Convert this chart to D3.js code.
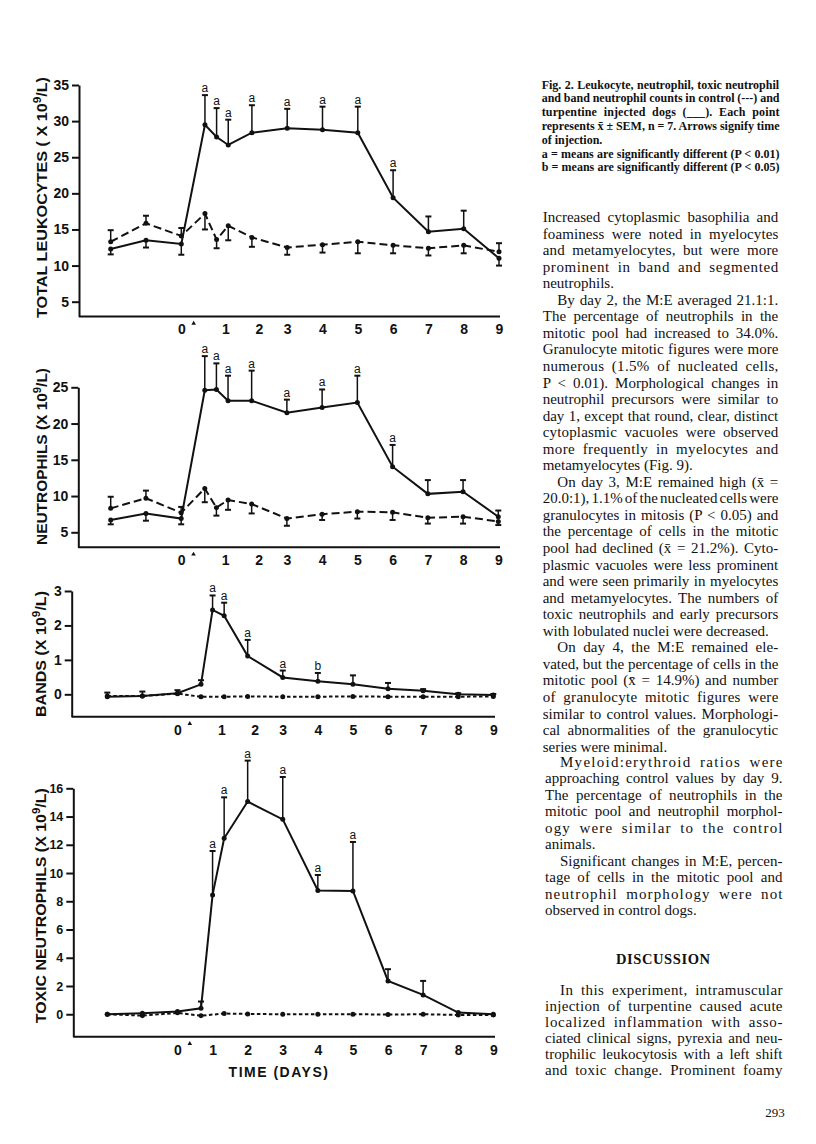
<!DOCTYPE html>
<html>
<head>
<meta charset="utf-8">
<script src="https://cdn.jsdelivr.net/npm/d3@7"></script>
<style>
  body { margin: 0; background: #fff; }
  svg { display: block; }
</style>
</head>
<body>
<svg id="page" width="816" height="1144"></svg>
<script>
// sampling times (days relative to injection)
const days = [-2, -1, 0, 0.67, 1, 1.33, 2, 3, 4, 5, 6, 7, 8, 9];

// total leukocytes (x 10^9/L); negative error = bar drawn below the mean
const leukoTurp    = [12.3, 13.5, 13.0, 29.5, 27.8, 26.7, 28.4, 29.0, 28.8, 28.4, 19.4, 14.7, 15.1, 11.0];
const leukoTurpErr = [-0.75, -1.0, -1.5, 4.1, 4.0, 3.5, 3.8, 2.7, 3.2, 3.6, 3.8, 2.1, 2.5, -1.0];
const leukoCtrl    = [13.3, 15.85, 14.1, 17.2, 13.6, 15.5, 13.9, 12.5, 12.9, 13.3, 12.8, 12.4, 12.8, 11.9];
const leukoCtrlErr = [1.6, 1.05, 1.1, -2.2, -1.2, -2.0, -1.3, -1.0, -1.1, -1.6, -1.1, -1.0, -1.1, 1.2];
const leukoSig     = ["", "", "", "a", "a", "a", "a", "a", "a", "a", "a", "", "", ""];

// neutrophils
const neutTurp    = [6.7, 7.6, 6.9, 24.6, 24.7, 23.15, 23.15, 21.5, 22.2, 22.9, 14.05, 10.3, 10.6, 7.15];
const neutTurpErr = [-0.6, -1.0, -0.8, 4.7, 3.6, 3.45, 4.15, 1.8, 2.5, 3.7, 3.0, 1.9, 1.6, 0.85];
const neutCtrl    = [8.3, 9.7, 7.7, 11.05, 8.4, 9.45, 8.9, 6.9, 7.5, 7.85, 7.75, 7.0, 7.15, 6.5];
const neutCtrlErr = [1.6, 1.05, 0.8, -1.9, -1.1, -1.35, -1.3, -1.0, -0.8, -0.95, -1.05, -0.8, -0.95, -0.5];
const neutSig     = ["", "", "", "a", "a", "a", "a", "a", "a", "a", "a", "", "", ""];

// band neutrophils
const bandTurp    = [-0.07, -0.05, 0.03, 0.29, 2.45, 2.28, 1.11, 0.49, 0.38, 0.29, 0.16, 0.1, 0.0, -0.02];
const bandTurpErr = [0.12, 0.13, 0.09, 0.12, 0.42, 0.38, 0.47, 0.2, 0.24, 0.26, 0.17, 0.05, 0.03, 0.03];
const bandCtrl    = [-0.05, -0.05, 0.02, -0.07, null, -0.07, -0.06, -0.07, -0.07, -0.06, -0.07, -0.07, -0.07, -0.06];
const bandCtrlErr = [0, 0, 0, 0, 0, 0, 0, 0, 0, 0, 0, 0, 0, 0];
const bandSig     = ["", "", "", "", "a", "a", "a", "a", "b", "", "", "", "", ""];

// toxic neutrophils
const toxTurp    = [0.0, 0.07, 0.19, 0.42, 8.45, 12.46, 15.06, 13.8, 8.76, 8.73, 2.36, 1.37, 0.12, 0.0];
const toxTurpErr = [0, 0, 0, 0.48, 3.11, 2.9, 2.9, 3.0, 1.1, 3.47, 0.83, 0.99, 0, 0];
const toxCtrl    = [0.0, -0.1, 0.1, -0.1, null, 0.05, 0.02, 0.0, 0.0, 0.0, -0.02, 0.0, -0.05, -0.05];
const toxCtrlErr = [0, 0, 0, 0, 0, 0, 0, 0, 0, 0, 0, 0, 0, 0];
const toxSig     = ["", "", "", "", "a", "a", "a", "a", "a", "a", "", "", "", ""];

// axis ticks
const leukoTicks = [5, 10, 15, 20, 25, 30, 35];
const neutTicks = [5, 10, 15, 20, 25];
const bandTicks = [0, 1, 2, 3];
const toxTicks = [0, 2, 4, 6, 8, 10, 12, 14, 16];
const dayLabels = ["0", "1", "2", "3", "4", "5", "6", "7", "8", "9"];
const dayTicksHand = [0, 1.25, 2.2, 3, 4, 5, 6, 7, 8, 9];   // hand lettered, "1" and "2" sit off the grid
const dayTicksEven = [0, 1, 2, 3, 4, 5, 6, 7, 8, 9];

const svg = d3.select("#page");
const sans = "'Liberation Sans', Arial, sans-serif";
const serif = "'Liberation Serif', 'Times New Roman', serif";

const panels = [
  { title: "TOTAL LEUKOCYTES ( X 10", turp: leukoTurp, turpErr: leukoTurpErr, ctrl: leukoCtrl, ctrlErr: leukoCtrlErr,
    sig: leukoSig, yTicks: leukoTicks, yMin: 2.95, dayTicks: dayTicksHand,
    left: 79, right: 500, x0: 110.7, x9: 499, top: 85, bottom: 316.5,
    dash: "8,4", titleX: 47, titleY: 197.5, titleLen: 241, yFont: 14 },
  { title: "NEUTROPHILS (X 10", turp: neutTurp, turpErr: neutTurpErr, ctrl: neutCtrl, ctrlErr: neutCtrlErr,
    sig: neutSig, yTicks: neutTicks, yMin: 2.93, dayTicks: dayTicksHand,
    left: 78.3, right: 500, x0: 110.7, x9: 498.3, top: 387.3, bottom: 547.3,
    dash: "8,4", titleX: 47, titleY: 456.5, titleLen: 177, yFont: 14 },
  { title: "BANDS (X 10", turp: bandTurp, turpErr: bandTurpErr, ctrl: bandCtrl, ctrlErr: bandCtrlErr,
    sig: bandSig, yTicks: bandTicks, yMin: -0.65, dayTicks: dayTicksHand,
    left: 71.7, right: 495, x0: 107.3, x9: 493.3, top: 591, bottom: 716.7,
    dash: "3.5,2.5", titleX: 45.5, titleY: 654, titleLen: 126, yFont: 14 },
  { title: "TOXIC NEUTROPHILS (X 10", turp: toxTurp, turpErr: toxTurpErr, ctrl: toxCtrl, ctrlErr: toxCtrlErr,
    sig: toxSig, yTicks: toxTicks, yMin: -1.59, dayTicks: dayTicksEven,
    left: 73.3, right: 495, x0: 107.3, x9: 493.3, top: 788.3, bottom: 1036.7,
    dash: "3.5,2.5", titleX: 46.3, titleY: 905.7, titleLen: 235, yFont: 12.5 }
];

panels.forEach(drawPanel);

function drawPanel(p) {
  const g = svg.append("g");

  const x = d3.scaleLinear().domain([-2, 9]).range([p.x0, p.x9]);
  const y = d3.scaleLinear().domain([p.yMin, d3.max(p.yTicks)]).range([p.bottom, p.top]);

  // y axis
  const yAxis = d3.axisLeft(y).tickValues(p.yTicks).tickFormat(d3.format("d"))
    .tickSize(7).tickSizeOuter(0).tickPadding(3);
  const ya = g.append("g").attr("transform", `translate(${p.left},0)`).call(yAxis);
  ya.select(".domain").attr("stroke", "#111").attr("stroke-width", 2);
  ya.selectAll(".tick line").attr("stroke", "#111").attr("stroke-width", 2);
  ya.selectAll(".tick text").attr("font-family", sans).attr("font-weight", "bold")
    .attr("font-size", p.yFont).attr("fill", "#111");

  // x axis: baseline drawn across the whole frame, labels from the day scale
  g.append("line")
    .attr("x1", p.left).attr("x2", p.right)
    .attr("y1", p.bottom).attr("y2", p.bottom)
    .attr("stroke", "#111").attr("stroke-width", 2);
  const xAxis = d3.axisBottom(x).tickValues(p.dayTicks)
    .tickFormat((d, i) => dayLabels[i]).tickSize(0).tickPadding(8);
  const xa = g.append("g").attr("transform", `translate(0,${p.bottom})`).call(xAxis);
  xa.select(".domain").remove();
  xa.selectAll(".tick text").attr("font-family", sans).attr("font-weight", "bold")
    .attr("font-size", 14).attr("fill", "#111");

  // injection arrow next to 0
  g.append("path")
    .attr("d", d3.symbol(d3.symbolTriangle, 9)())
    .attr("transform", `translate(${x(0.35)},${p.bottom + 7})`)
    .attr("fill", "#111");

  // title
  const t = g.append("text")
    .attr("transform", `translate(${p.titleX},${p.titleY}) rotate(-90)`)
    .attr("text-anchor", "middle")
    .attr("font-family", sans).attr("font-weight", "bold").attr("font-size", 15)
    .attr("fill", "#111")
    .attr("textLength", p.titleLen).attr("lengthAdjust", "spacingAndGlyphs");
  t.append("tspan").text(p.title);
  t.append("tspan").attr("dy", -6).attr("font-size", 11).text("9");
  t.append("tspan").attr("dy", 6).text("/L)");

  const series = [
    { v: p.ctrl, e: p.ctrlErr, dash: p.dash },
    { v: p.turp, e: p.turpErr, dash: null }
  ];

  series.forEach(s => {
    const pts = days.map((d, i) => ({ d, v: s.v[i], e: s.e[i], sig: s.dash ? "" : p.sig[i] }))
      .filter(o => o.v != null);

    const line = d3.line().x(o => x(o.d)).y(o => y(o.v));
    g.append("path")
      .datum(pts)
      .attr("d", line)
      .attr("fill", "none")
      .attr("stroke", "#111")
      .attr("stroke-width", 2)
      .attr("stroke-dasharray", s.dash);

    const bars = pts.filter(o => o.e);
    g.selectAll(null).data(bars).enter().append("line")
      .attr("x1", o => x(o.d)).attr("x2", o => x(o.d))
      .attr("y1", o => y(o.v)).attr("y2", o => y(o.v + o.e))
      .attr("stroke", "#111").attr("stroke-width", 1.5);
    g.selectAll(null).data(bars).enter().append("line")
      .attr("x1", o => x(o.d) - 3).attr("x2", o => x(o.d) + 3)
      .attr("y1", o => y(o.v + o.e)).attr("y2", o => y(o.v + o.e))
      .attr("stroke", "#111").attr("stroke-width", 2);

    g.selectAll(null).data(pts).enter().append("circle")
      .attr("cx", o => x(o.d)).attr("cy", o => y(o.v)).attr("r", 2.5)
      .attr("fill", "#111");

    g.selectAll(null).data(pts.filter(o => o.sig)).enter().append("text")
      .attr("x", o => x(o.d))
      .attr("y", o => y(o.v + Math.max(o.e, 0)) - 3)
      .attr("text-anchor", "middle")
      .attr("font-family", sans).attr("font-size", 12).attr("fill", "#111")
      .text(o => o.sig);
  });

  if (p === panels[3]) {
    g.append("text")
      .attr("x", 279).attr("y", 1076.5)
      .attr("text-anchor", "middle")
      .attr("font-family", sans).attr("font-weight", "bold").attr("font-size", 14)
      .attr("letter-spacing", 1.5).attr("fill", "#111")
      .text("TIME (DAYS)");
  }
}

// ---------- right column text ----------
// spread a line to the column width: word gaps first, then letter spacing
function justify(sel, width) {
  const str = sel.text();
  const natural = sel.node().getComputedTextLength();
  const spaces = (str.match(/ /g) || []).length;
  const extra = width - natural;
  if (!spaces) return;
  if (extra / spaces <= 3.5) {
    sel.style("word-spacing", (extra / spaces) + "px");
  } else {
    sel.style("word-spacing", "3.5px");
    sel.style("letter-spacing", ((extra - 3.5 * spaces) / (str.length - 1)) + "px");
  }
}

function block(lines, opt) {
  lines.forEach((ln, i) => {
    const indent = ln.startsWith("\t");
    const last = ln.endsWith("\n");
    const str = ln.replace(/^\t/, "").replace(/\n$/, "");
    const xs = opt.x + (indent ? opt.indent : 0);
    const t = svg.append("text")
      .attr("x", xs).attr("y", opt.y + i * opt.lh)
      .attr("font-family", serif).attr("font-size", opt.size)
      .attr("font-weight", opt.weight || "normal").attr("fill", "#111")
      .text(str);
    if (!last) justify(t, opt.right - xs);
  });
}

const captionLines = [
  "Fig. 2.  Leukocyte, neutrophil, toxic neutrophil",
  "and band neutrophil counts in control (---) and",
  "turpentine injected dogs (___). Each point",
  "represents x\u0304 \u00b1 SEM, n = 7. Arrows signify time",
  "of injection.\n",
  "a = means are significantly different (P < 0.01)",
  "b = means are significantly different (P < 0.05)"
];

const bodyLinesA = [
  "Increased cytoplasmic basophilia and",
  "foaminess were noted in myelocytes",
  "and metamyelocytes, but were more",
  "prominent in band and segmented",
  "neutrophils.\n",
  "\tBy day 2, the M:E averaged 21.1:1.",
  "The percentage of neutrophils in the",
  "mitotic pool had increased to 34.0%.",
  "Granulocyte mitotic figures were more",
  "numerous (1.5% of nucleated cells,",
  "P < 0.01). Morphological changes in",
  "neutrophil precursors were similar to",
  "day 1, except that round, clear, distinct",
  "cytoplasmic vacuoles were observed",
  "more frequently in myelocytes and",
  "metamyelocytes (Fig. 9).\n",
  "\tOn day 3, M:E remained high (x\u0304 =",
  "20.0:1), 1.1% of the nucleated cells were",
  "granulocytes in mitosis (P < 0.05) and",
  "the percentage of cells in the mitotic",
  "pool had declined (x\u0304 = 21.2%). Cyto-",
  "plasmic vacuoles were less prominent",
  "and were seen primarily in myelocytes",
  "and metamyelocytes. The numbers of",
  "toxic neutrophils and early precursors",
  "with lobulated nuclei were decreased.\n",
  "\tOn day 4, the M:E remained ele-",
  "vated, but the percentage of cells in the",
  "mitotic pool (x\u0304 = 14.9%) and number",
  "of granulocyte mitotic figures were",
  "similar to control values. Morphologi-",
  "cal abnormalities of the granulocytic",
  "series were minimal.\n"
];

const bodyLinesB = [
  "\tMyeloid:erythroid ratios were",
  "approaching control values by day 9.",
  "The percentage of neutrophils in the",
  "mitotic pool and neutrophil morphol-",
  "ogy were similar to the control",
  "animals.\n",
  "\tSignificant changes in M:E, percen-",
  "tage of cells in the mitotic pool and",
  "neutrophil morphology were not",
  "observed in control dogs.\n"
];

const discussionLines = [
  "\tIn this experiment, intramuscular",
  "injection of turpentine caused acute",
  "localized inflammation with asso-",
  "ciated clinical signs, pyrexia and neu-",
  "trophilic leukocytosis with a left shift",
  "and toxic change. Prominent foamy"
];

block(captionLines, { x: 541.7, right: 779.5, y: 88.5, lh: 13.8, size: 12, weight: "bold", indent: 0 });
block(bodyLinesA, { x: 542.7, right: 778.3, y: 222, lh: 16.55, size: 15, indent: 14.6 });
block(bodyLinesB, { x: 545, right: 782.5, y: 767, lh: 16.45, size: 15, indent: 15 });
block(discussionLines, { x: 545, right: 782.5, y: 994.5, lh: 16.15, size: 15, indent: 15 });

svg.append("text")
  .attr("x", 663.3).attr("y", 963.5)
  .attr("text-anchor", "middle")
  .attr("font-family", serif).attr("font-weight", "bold").attr("font-size", 14.5)
  .attr("letter-spacing", 0.6).attr("fill", "#111")
  .text("DISCUSSION");

svg.append("text")
  .attr("x", 775).attr("y", 1116.5)
  .attr("text-anchor", "middle")
  .attr("font-family", serif).attr("font-size", 13).attr("fill", "#111")
  .text("293");
</script>
</body>
</html>
